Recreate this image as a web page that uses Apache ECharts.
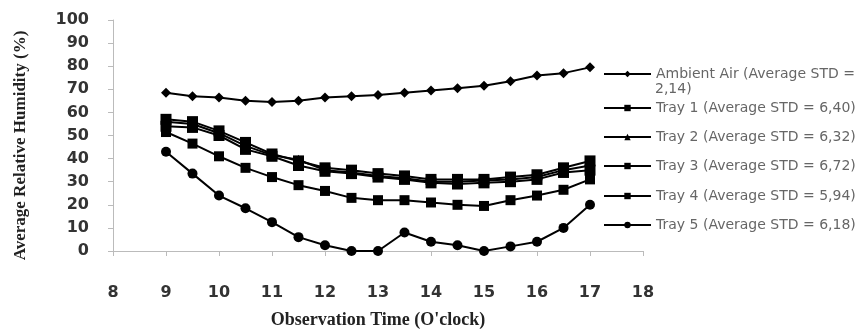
<!DOCTYPE html>
<html>
<head>
<meta charset="utf-8">
<script src="https://cdn.jsdelivr.net/npm/echarts@6/dist/echarts.min.js"></script>
<style>
  html, body { margin: 0; padding: 0; background: #fff; }
  #chart { width: 866px; height: 334px; }
</style>
</head>
<body>
<div id="chart"></div>
<script>
// observation hours (9:00 .. 17:00, every half hour)
const hours = [9, 9.5, 10, 10.5, 11, 11.5, 12, 12.5, 13, 13.5, 14, 14.5, 15, 15.5, 16, 16.5, 17]

const ambientAir = [68.5, 67, 66.5, 65, 64.5, 65, 66.5, 67, 67.5, 68.5, 69.5, 70.5, 71.5, 73.5, 76, 77, 79.5]
const tray1 = [57, 56, 52, 47, 42, 39, 36, 35, 33.5, 32.5, 31, 31, 31, 32, 33, 36, 39]
const tray2 = [56, 55, 51, 45.5, 41.5, 39.5, 35, 34, 32.5, 31.5, 30, 30, 30.5, 31, 32, 35, 37]
const tray3 = [54, 53.5, 50, 44, 41, 37, 34.5, 33.5, 32, 31, 29.5, 29, 29.5, 30, 31, 34, 35]
const tray4 = [51.5, 46.5, 41, 36, 32, 28.5, 26, 23, 22, 22, 21, 20, 19.5, 22, 24, 26.5, 31]
const tray5 = [43, 33.5, 24, 18.5, 12.5, 6, 2.5, 0, 0, 8, 4, 2.5, 0, 2, 4, 10, 20]

const seriesNames = [
  'Ambient Air (Average STD =',
  'Tray 1 (Average STD = 6,40)',
  'Tray 2 (Average STD = 6,32)',
  'Tray 3 (Average STD = 6,72)',
  'Tray 4 (Average STD = 5,94)',
  'Tray 5 (Average STD = 6,18)'
]
const seriesValues = [ambientAir, tray1, tray2, tray3, tray4, tray5]
const symbols = ['diamond', 'rect', 'triangle', 'rect', 'rect', 'circle']
const symbolSizes = [10, 11, 10, 11, 10, 10]
const legendTops = [67, 101, 130, 159, 189, 218]

const chart = echarts.init(document.getElementById('chart'))

const series = seriesNames.map((name, i) => ({
  name: name,
  type: 'line',
  data: hours.map((h, j) => [h, seriesValues[i][j]]),
  symbol: symbols[i],
  symbolSize: symbolSizes[i],
  showAllSymbol: true,
  lineStyle: { color: '#000', width: 2 },
  itemStyle: { color: '#000' },
  animation: false
}))

// one legend per row so the wrapped first entry keeps its marker on line one
const legends = seriesNames.map((name, i) => ({
  data: [name],
  left: 603,
  top: legendTops[i],
  itemWidth: 47,
  itemHeight: 8,
  itemGap: 0,
  padding: 0,
  selectedMode: false,
  textStyle: { fontFamily: 'DejaVu Sans', fontSize: 14, color: '#666', padding: [0, 0, 0, 0] }
}))

const option = {
  backgroundColor: '#fff',
  animation: false,
  grid: { left: 113, right: 223, top: 20, bottom: 70 },
  legend: legends,
  graphic: [{
    type: 'text',
    left: 655,
    top: 82,
    style: { text: '2,14)', fontFamily: 'DejaVu Sans', fontSize: 14, fill: '#666' }
  }],
  xAxis: {
    type: 'value',
    min: 8,
    max: 18,
    interval: 1,
    name: "Observation Time (O'clock)",
    nameLocation: 'middle',
    nameGap: 60,
    nameTextStyle: { fontFamily: 'Liberation Serif', fontWeight: 'bold', fontSize: 18, color: '#222' },
    axisLine: { lineStyle: { color: '#bbb', width: 1 } },
    axisTick: { show: true, length: 5, lineStyle: { color: '#bbb' } },
    axisLabel: { margin: 34, fontFamily: 'DejaVu Sans', fontWeight: 'bold', fontSize: 16, color: '#333' },
    splitLine: { show: false }
  },
  yAxis: {
    type: 'value',
    min: 0,
    max: 100,
    interval: 10,
    name: 'Average Relative Humidity (%)',
    nameLocation: 'middle',
    nameGap: 84,
    nameTextStyle: { fontFamily: 'Liberation Serif', fontWeight: 'bold', fontSize: 17, color: '#222', padding: [0, 20, 0, 0] },
    axisLine: { show: true, lineStyle: { color: '#bbb', width: 1 } },
    axisTick: { show: true, length: 5, lineStyle: { color: '#bbb' } },
    axisLabel: { margin: 24, fontFamily: 'DejaVu Sans', fontWeight: 'bold', fontSize: 16, color: '#333' },
    splitLine: { show: false }
  },
  series: series
}

chart.setOption(option)
</script>
</body>
</html>
